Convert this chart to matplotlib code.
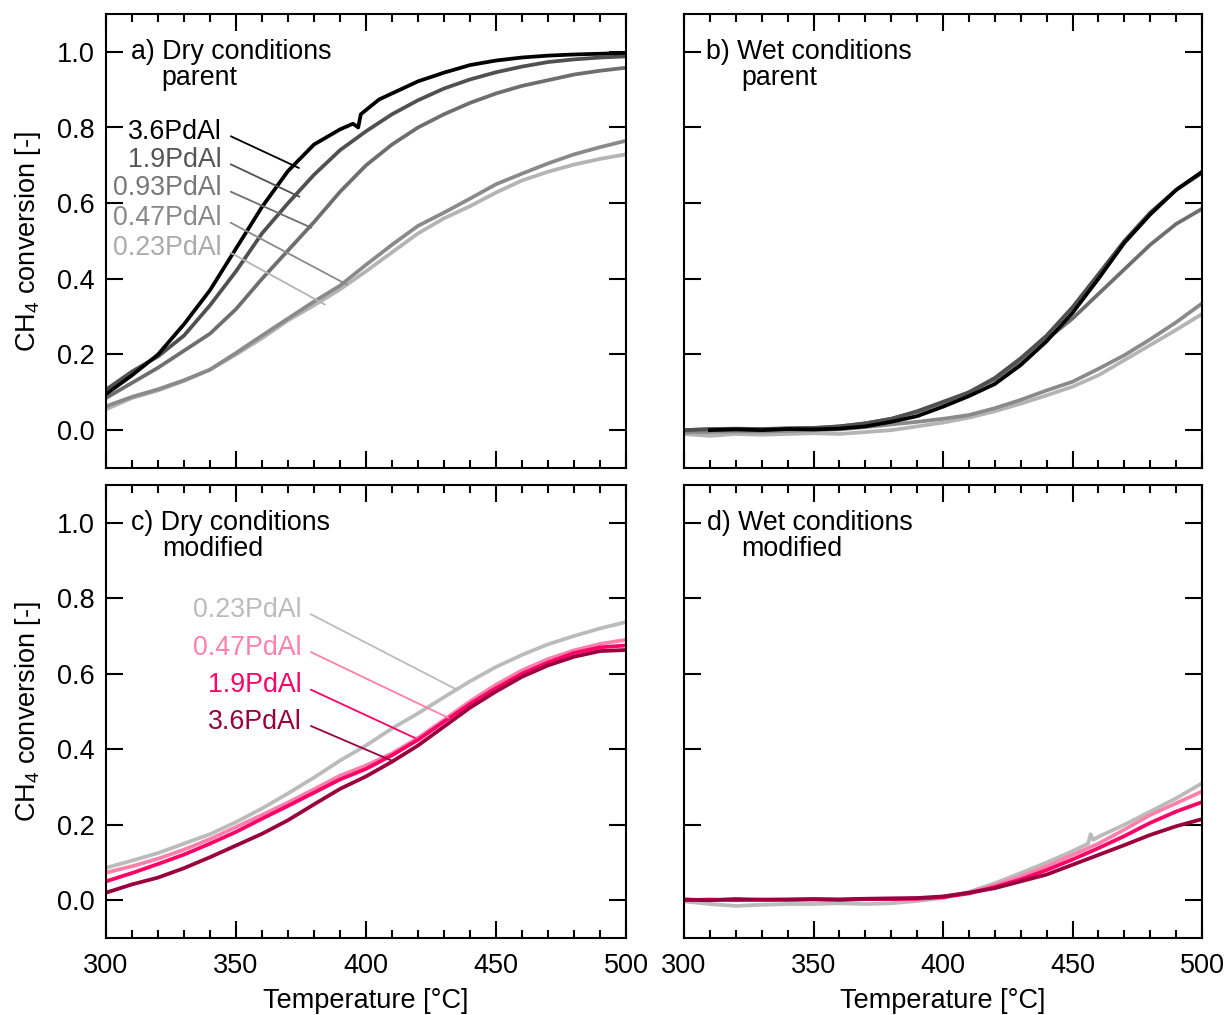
import matplotlib.pyplot as plt
from matplotlib.ticker import FormatStrFormatter

plt.rcParams['font.family'] = ['Liberation Sans', 'DejaVu Sans']
plt.rcParams['mathtext.fontset'] = 'custom'
plt.rcParams['mathtext.rm'] = 'Liberation Sans'

# temperature grid (°C) used by most curves
T = [300, 310, 320, 330, 340, 350, 360, 370, 380, 390, 400,
     410, 420, 430, 440, 450, 460, 470, 480, 490, 500]

# a) dry, parent
T_a36 = [300, 310, 320, 330, 340, 350, 360, 370, 380, 390, 395, 397, 398,
         405, 410, 420, 430, 440, 450, 460, 470, 480, 490, 500]
a_36 = [0.095, 0.145, 0.20, 0.28, 0.37, 0.48, 0.59, 0.685, 0.755, 0.795, 0.81, 0.80, 0.835,
        0.874, 0.89, 0.922, 0.945, 0.965, 0.977, 0.985, 0.99, 0.993, 0.995, 0.997]
a_19 = [0.107, 0.155, 0.195, 0.25, 0.33, 0.42, 0.52, 0.60, 0.675, 0.74, 0.79,
        0.835, 0.872, 0.903, 0.927, 0.946, 0.961, 0.973, 0.98, 0.985, 0.988]
a_093 = [0.085, 0.125, 0.165, 0.21, 0.255, 0.32, 0.40, 0.475, 0.55, 0.63, 0.70,
         0.755, 0.80, 0.835, 0.865, 0.89, 0.91, 0.925, 0.94, 0.95, 0.958]
a_047 = [0.063, 0.088, 0.108, 0.132, 0.16, 0.204, 0.25, 0.295, 0.34, 0.382, 0.437,
         0.49, 0.54, 0.575, 0.612, 0.65, 0.678, 0.705, 0.729, 0.748, 0.765]
a_023 = [0.055, 0.085, 0.105, 0.13, 0.16, 0.20, 0.243, 0.29, 0.33, 0.372, 0.42,
         0.47, 0.52, 0.56, 0.592, 0.628, 0.66, 0.683, 0.702, 0.717, 0.729]

# b) wet, parent
T_b36 = T[1:]
b_36 = [0.0, 0.002, 0.0, 0.003, 0.002, 0.004, 0.01, 0.022, 0.037, 0.062,
        0.09, 0.122, 0.172, 0.235, 0.31, 0.40, 0.495, 0.57, 0.635, 0.683]
b_19 = [0.0, 0.003, 0.004, 0.003, 0.005, 0.006, 0.01, 0.018, 0.03, 0.05, 0.075,
        0.10, 0.138, 0.19, 0.25, 0.325, 0.412, 0.50, 0.575, 0.635, 0.68]
b_093 = [0.0, 0.002, 0.003, 0.002, 0.004, 0.005, 0.01, 0.018, 0.03, 0.048, 0.072,
         0.10, 0.134, 0.18, 0.24, 0.295, 0.36, 0.425, 0.49, 0.545, 0.585]
b_047 = [-0.005, -0.005, -0.003, -0.004, -0.002, 0.0, 0.002, 0.008, 0.015, 0.022, 0.03,
         0.04, 0.058, 0.08, 0.105, 0.128, 0.162, 0.198, 0.24, 0.285, 0.335]
b_023 = [-0.01, -0.015, -0.01, -0.012, -0.01, -0.008, -0.01, -0.005, 0.0, 0.01, 0.02,
         0.033, 0.05, 0.07, 0.092, 0.115, 0.145, 0.185, 0.225, 0.265, 0.307]

# c) dry, modified
c_023 = [0.086, 0.105, 0.125, 0.15, 0.175, 0.207, 0.243, 0.283, 0.325, 0.37, 0.41,
         0.455, 0.495, 0.538, 0.58, 0.618, 0.65, 0.678, 0.70, 0.72, 0.737]
c_047 = [0.073, 0.09, 0.11, 0.134, 0.162, 0.194, 0.226, 0.259, 0.294, 0.33, 0.357,
         0.389, 0.43, 0.478, 0.527, 0.571, 0.609, 0.639, 0.662, 0.679, 0.69]
c_19 = [0.05, 0.072, 0.096, 0.121, 0.15, 0.181, 0.216, 0.25, 0.285, 0.32, 0.348,
        0.384, 0.425, 0.473, 0.52, 0.562, 0.60, 0.63, 0.655, 0.67, 0.675]
c_36 = [0.02, 0.042, 0.06, 0.085, 0.114, 0.145, 0.176, 0.212, 0.254, 0.295, 0.328,
        0.367, 0.41, 0.46, 0.51, 0.553, 0.592, 0.622, 0.645, 0.66, 0.663]

# d) wet, modified
T_d023 = [300, 310, 320, 330, 340, 350, 360, 370, 380, 390, 400,
          410, 420, 430, 440, 450, 456, 457, 458, 460, 470, 480, 490, 500]
d_023 = [-0.003, -0.01, -0.015, -0.012, -0.01, -0.01, -0.008, -0.01, -0.008, -0.002, 0.006,
         0.022, 0.045, 0.072, 0.10, 0.13, 0.15, 0.175, 0.16, 0.168, 0.20, 0.235, 0.27, 0.31]
d_047 = [0.002, 0.0, 0.003, 0.001, 0.002, 0.003, 0.002, 0.003, 0.004, 0.004, 0.01,
         0.02, 0.04, 0.063, 0.09, 0.12, 0.15, 0.187, 0.226, 0.257, 0.288]
d_19 = [0.0, 0.002, 0.0, 0.002, 0.001, 0.002, 0.001, 0.003, 0.003, 0.004, 0.008,
        0.018, 0.035, 0.055, 0.08, 0.108, 0.138, 0.17, 0.205, 0.235, 0.26]
d_36 = [0.002, 0.0, 0.003, 0.001, 0.002, 0.003, 0.002, 0.004, 0.005, 0.006, 0.01,
        0.02, 0.032, 0.05, 0.068, 0.094, 0.12, 0.146, 0.173, 0.196, 0.215]

grey_cols = {'3.6': '#000000', '1.9': '#505050', '0.93': '#6e6e6e', '0.47': '#8a8a8a', '0.23': '#b4b4b4'}
grey_text = {'3.6': '#000000', '1.9': '#555555', '0.93': '#777777', '0.47': '#888888', '0.23': '#aaaaaa'}
pink_cols = {'0.23': '#bbbbbb', '0.47': '#ff80aa', '1.9': '#ff0066', '3.6': '#99003d'}

# label text: right edge x, centre y; leader end point
a_labels = [('3.6', 344.5, 0.788, 374.2, 0.693),
            ('1.9', 344.5, 0.714, 374.4, 0.617),
            ('0.93', 344.5, 0.641, 379.0, 0.535),
            ('0.47', 344.5, 0.561, 392.6, 0.385),
            ('0.23', 344.5, 0.482, 384.2, 0.332)]
c_labels = [('0.23', 375.3, 0.770, 434.9, 0.558),
            ('0.47', 375.3, 0.669, 431.7, 0.483),
            ('1.9', 375.3, 0.569, 418.8, 0.430),
            ('3.6', 375.3, 0.472, 410.5, 0.368)]

fig = plt.figure(figsize=(12.28, 10.15), dpi=100)
W, H = 1228, 1015


def make_ax(left, top, right, bottom):
    return fig.add_axes([left / W, 1 - bottom / H, (right - left) / W, (bottom - top) / H])


ax_a = make_ax(106, 14, 626, 468)
ax_b = make_ax(684, 14, 1202, 468)
ax_c = make_ax(106, 485, 626, 938)
ax_d = make_ax(684, 485, 1202, 938)

lw = 2.7

ax_a.plot(T, a_023, color=grey_cols['0.23'], lw=lw)
ax_a.plot(T, a_047, color=grey_cols['0.47'], lw=lw)
ax_a.plot(T, a_093, color=grey_cols['0.93'], lw=lw)
ax_a.plot(T, a_19, color=grey_cols['1.9'], lw=lw)
ax_a.plot(T_a36, a_36, color=grey_cols['3.6'], lw=lw)

ax_b.plot(T, b_023, color=grey_cols['0.23'], lw=lw)
ax_b.plot(T, b_047, color=grey_cols['0.47'], lw=lw)
ax_b.plot(T, b_093, color=grey_cols['0.93'], lw=lw)
ax_b.plot(T, b_19, color=grey_cols['1.9'], lw=lw)
ax_b.plot(T_b36, b_36, color=grey_cols['3.6'], lw=lw)

ax_c.plot(T, c_023, color=pink_cols['0.23'], lw=lw)
ax_c.plot(T, c_047, color=pink_cols['0.47'], lw=lw)
ax_c.plot(T, c_19, color=pink_cols['1.9'], lw=lw)
ax_c.plot(T, c_36, color=pink_cols['3.6'], lw=lw)

ax_d.plot(T_d023, d_023, color=pink_cols['0.23'], lw=lw)
ax_d.plot(T, d_047, color=pink_cols['0.47'], lw=lw)
ax_d.plot(T, d_19, color=pink_cols['1.9'], lw=lw)
ax_d.plot(T, d_36, color=pink_cols['3.6'], lw=lw)

for ax in [ax_a, ax_b, ax_c, ax_d]:
    ax.set_xlim(300, 500)
    ax.set_ylim(-0.1, 1.1)
    ax.set_xticks(range(300, 501, 50))
    ax.set_xticks(range(300, 501, 10), minor=True)
    ax.set_yticks([0.0, 0.2, 0.4, 0.6, 0.8, 1.0])
    ax.yaxis.set_major_formatter(FormatStrFormatter('%.1f'))
    ax.tick_params(which='both', direction='in', top=True, right=True, width=1.5)
    ax.tick_params(which='major', length=12, labelsize=19.5, pad=8)
    ax.tick_params(axis='x', which='major', pad=11)
    ax.tick_params(which='minor', length=6)
    for s in ax.spines.values():
        s.set_linewidth(1.5)

ax_a.tick_params(labelbottom=False)
ax_b.tick_params(labelbottom=False, labelleft=False)
ax_d.tick_params(labelleft=False)

for ax in [ax_a, ax_c]:
    ax.set_ylabel('CH$_\\mathregular{4}$ conversion [-]', fontsize=19.5, labelpad=10)
for ax in [ax_c, ax_d]:
    ax.set_xlabel('Temperature [°C]', fontsize=19.5, labelpad=6)

fs = 19.3
ax_a.text(309.5, 1.0, 'a) Dry conditions', fontsize=fs, va='center')
ax_a.text(321.4, 0.93, 'parent', fontsize=fs, va='center')
ax_b.text(308.5, 1.0, 'b) Wet conditions', fontsize=fs, va='center')
ax_b.text(322.0, 0.93, 'parent', fontsize=fs, va='center')
ax_c.text(309.8, 1.0, 'c) Dry conditions', fontsize=fs, va='center')
ax_c.text(321.5, 0.93, 'modified', fontsize=fs, va='center')
ax_d.text(308.9, 1.0, 'd) Wet conditions', fontsize=fs, va='center')
ax_d.text(322.0, 0.93, 'modified', fontsize=fs, va='center')

for key, tx, ty, ex, ey in a_labels:
    ax_a.annotate(key + 'PdAl', xy=(ex, ey), xytext=(tx, ty), ha='right', va='center',
                  fontsize=fs, color=grey_text[key],
                  arrowprops=dict(arrowstyle='-', color=grey_cols[key], lw=1.3,
                                  relpos=(1, 0.5), shrinkA=5, shrinkB=0))
for key, tx, ty, ex, ey in c_labels:
    ax_c.annotate(key + 'PdAl', xy=(ex, ey), xytext=(tx, ty), ha='right', va='center',
                  fontsize=fs, color=pink_cols[key],
                  arrowprops=dict(arrowstyle='-', color=pink_cols[key], lw=1.3,
                                  relpos=(1, 0.5), shrinkA=5, shrinkB=0))

fig.savefig('out.png', dpi=100)
